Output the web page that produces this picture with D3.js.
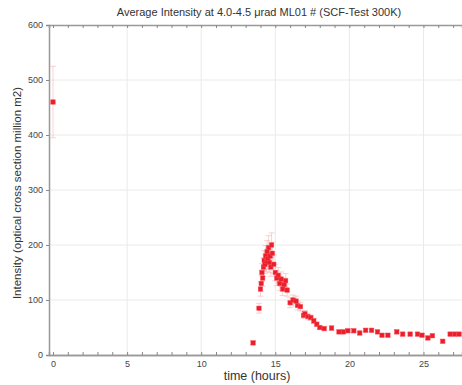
<!DOCTYPE html>
<html>
<head>
<meta charset="utf-8">
<script src="https://cdn.jsdelivr.net/npm/d3@7"></script>
<style>
  body { margin: 0; background: #fff; }
  svg { font-family: "Liberation Sans", Arial, sans-serif; }
</style>
</head>
<body>
<svg id="chart" width="462" height="385"></svg>
<script>
// values
const times = [0, 13.5, 13.9, 14.0, 14.05, 14.1, 14.15, 14.2, 14.25, 14.3, 14.35, 14.4, 14.45, 14.5, 14.55, 14.6, 14.65, 14.7,
  14.75, 14.8, 14.9, 15.0, 15.1, 15.2, 15.3, 15.4, 15.5, 15.6, 15.7, 15.8, 16.0, 16.2, 16.4, 16.5, 16.7, 16.9, 17.0, 17.2,
  17.4, 17.6, 17.8, 18.0, 18.3, 18.8, 19.3, 19.6, 19.9, 20.3, 20.7, 21.1, 21.5, 21.9, 22.2, 22.6, 23.2, 23.6, 24.1, 24.6,
  24.9, 25.3, 25.6, 26.3, 26.8, 27.1, 27.4];
const intensity = [460, 22, 85, 120, 130, 150, 140, 160, 172, 165, 180, 170, 188, 175, 195, 168, 180, 160,
  200, 185, 165, 150, 140, 145, 130, 138, 120, 128, 135, 118, 95, 100, 98, 90, 88, 72, 75, 70,
  68, 62, 56, 50, 48, 49, 42, 42, 44, 44, 40, 45, 45, 42, 36, 36, 42, 38, 38, 38,
  36, 31, 35, 25, 38, 38, 38];
const errs = [65, 3, 9, 13, 14, 16, 15, 17, 18, 17, 19, 18, 20, 19, 22, 18, 19, 17,
  22, 20, 17, 15, 14, 14, 13, 13, 12, 12, 13, 11, 9, 9, 9, 8, 8, 6, 6, 6,
  5, 5, 4, 4, 4, 4, 3, 3, 3, 3, 3, 3, 3, 3, 3, 3, 3, 3, 3, 3,
  3, 3, 3, 3, 3, 3, 3];
const yTicks = [0, 100, 200, 300, 400, 500, 600];
const xTicks = [0, 5, 10, 15, 20, 25];

const svg = d3.select('#chart');
const MARGIN = { left: 49, top: 25 };

const x = d3.scaleLinear().domain([-0.27, 27.6]).range([MARGIN.left, 462]);
const y = d3.scaleLinear().domain([0, 600]).range([355, MARGIN.top]);

// grid
svg.append('g').selectAll('line')
  .data(xTicks.filter(d => d > 0))
  .join('line')
  .attr('x1', d => x(d)).attr('x2', d => x(d))
  .attr('y1', y(0)).attr('y2', y(600))
  .attr('stroke', '#eaeaea');
svg.append('g').selectAll('line')
  .data(yTicks.filter(d => d > 0 && d < 600))
  .join('line')
  .attr('x1', MARGIN.left).attr('x2', 462)
  .attr('y1', d => y(d)).attr('y2', d => y(d))
  .attr('stroke', '#eaeaea');

// axes
const minor = d3.range(0, 28, 1);
svg.append('g').attr('transform', `translate(0,${y(0)})`)
  .call(d3.axisBottom(x).tickValues(xTicks).tickSize(0).tickPadding(6));
svg.append('g').attr('transform', `translate(0,${y(0)})`)
  .call(d3.axisTop(x).tickValues(minor).tickSize(3).tickFormat(''));
svg.append('g').attr('transform', `translate(0,${y(600)})`)
  .call(d3.axisBottom(x).tickValues(minor).tickSize(3).tickFormat(''));
svg.append('g').attr('transform', `translate(${MARGIN.left},0)`)
  .call(d3.axisLeft(y).tickValues(yTicks).tickSize(3).tickPadding(3));
svg.selectAll('.domain').attr('stroke', '#999').attr('stroke-width', 1.5);
svg.selectAll('.tick line').attr('stroke', '#888');
svg.selectAll('.tick text').attr('fill', '#444').attr('font-size', 9);

// error bars
const eb = svg.append('g').attr('stroke', '#f4a0a0').attr('stroke-opacity', 0.6).attr('stroke-width', 0.8);
times.forEach((t, i) => {
  const cx = x(t);
  eb.append('line').attr('x1', cx).attr('x2', cx)
    .attr('y1', y(intensity[i] - errs[i])).attr('y2', y(intensity[i] + errs[i]));
  [intensity[i] - errs[i], intensity[i] + errs[i]].forEach(v => {
    eb.append('line').attr('x1', cx - 3).attr('x2', cx + 3).attr('y1', y(v)).attr('y2', y(v));
  });
});

// markers
svg.append('g').selectAll('rect')
  .data(times)
  .join('rect')
  .attr('x', (d) => x(d) - 2.2)
  .attr('y', (d, i) => y(intensity[i]) - 2.2)
  .attr('width', 4.4).attr('height', 4.4)
  .attr('fill', '#e8202a').attr('stroke', '#ff4050').attr('stroke-width', 0.5);

// text
svg.append('text').text('Average Intensity at 4.0-4.5 \u03bcrad ML01 # (SCF-Test 300K)')
  .attr('x', 259).attr('y', 16).attr('text-anchor', 'middle')
  .attr('font-size', 11).attr('fill', '#333');
svg.append('text').text('time (hours)')
  .attr('x', 257).attr('y', 380).attr('text-anchor', 'middle')
  .attr('font-size', 12.5).attr('fill', '#333');
svg.append('text').text('Intensity (optical cross section million m2)')
  .attr('transform', 'translate(21,193) rotate(-90)').attr('text-anchor', 'middle')
  .attr('font-size', 11.5).attr('fill', '#333');
</script>
</body>
</html>
